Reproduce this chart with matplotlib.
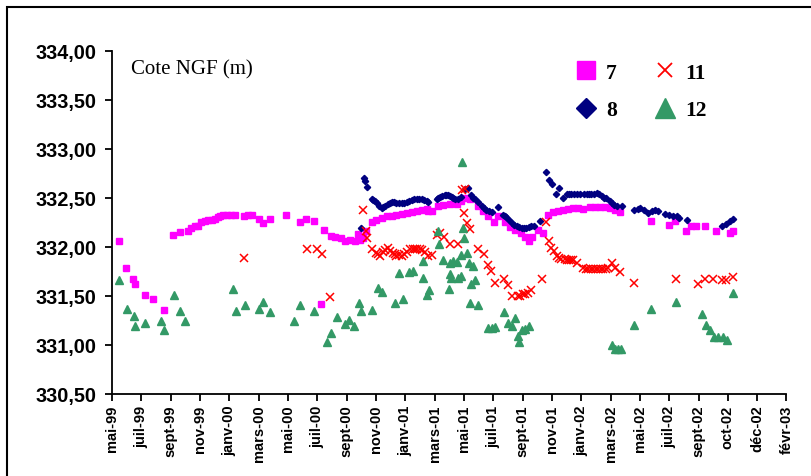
import matplotlib
matplotlib.use("Agg")
import matplotlib.pyplot as plt
import pandas as pd
from matplotlib.lines import Line2D
from matplotlib.patches import Rectangle
from matplotlib.ticker import FuncFormatter

# piezometer 7
dates_7 = ["1999-06-01", "1999-06-15", "1999-06-29", "1999-07-04", "1999-07-24", "1999-08-10",
           "1999-09-01", "1999-09-20", "1999-10-04", "1999-10-21", "1999-10-26", "1999-11-04",
           "1999-11-09", "1999-11-17", "1999-11-24", "1999-12-01", "1999-12-08", "1999-12-15",
           "1999-12-21", "1999-12-25", "1999-12-31", "2000-01-08", "2000-01-16", "2000-01-25",
           "2000-02-13", "2000-02-21", "2000-02-29", "2000-03-14", "2000-03-21", "2000-04-05",
           "2000-05-09", "2000-06-06", "2000-06-18", "2000-07-04", "2000-07-19", "2000-07-24",
           "2000-08-08", "2000-08-16", "2000-08-29", "2000-09-06", "2000-09-16", "2000-09-26",
           "2000-10-03", "2000-10-06", "2000-10-12", "2000-10-19", "2000-10-30", "2000-11-09",
           "2000-11-20", "2000-11-30", "2000-12-10", "2000-12-20", "2000-12-31", "2001-01-10",
           "2001-01-20", "2001-01-30", "2001-02-10", "2001-02-20", "2001-02-23", "2001-03-03",
           "2001-03-15", "2001-03-26", "2001-04-08", "2001-04-22", "2001-05-02", "2001-05-09",
           "2001-05-19", "2001-06-05", "2001-06-15", "2001-06-26", "2001-07-08", "2001-07-16",
           "2001-07-30", "2001-08-09", "2001-08-19", "2001-09-01", "2001-09-09", "2001-09-17",
           "2001-09-24", "2001-10-06", "2001-10-15", "2001-10-26", "2001-11-06", "2001-11-16",
           "2001-11-26", "2001-12-06", "2001-12-17", "2001-12-27", "2002-01-06", "2002-01-20",
           "2002-01-30", "2002-02-09", "2002-02-19", "2002-03-02", "2002-03-12", "2002-03-22",
           "2002-05-24", "2002-06-30", "2002-07-13", "2002-08-04", "2002-08-14", "2002-08-25",
           "2002-09-13", "2002-10-04", "2002-11-02", "2002-11-09"]
level_7 = [332.06, 331.78, 331.67, 331.62, 331.51, 331.46,
           331.35, 332.12, 332.15, 332.16, 332.19, 332.21,
           332.21, 332.25, 332.26, 332.27, 332.27, 332.28,
           332.30, 332.31, 332.32, 332.32, 332.32, 332.32,
           332.31, 332.32, 332.32, 332.28, 332.24, 332.28,
           332.32, 332.25, 332.28, 332.26, 331.41, 332.17,
           332.11, 332.10, 332.09, 332.06, 332.07, 332.06,
           332.13, 332.07, 332.09, 332.16, 332.25, 332.27,
           332.29, 332.31, 332.31, 332.32, 332.33, 332.34,
           332.35, 332.36, 332.37, 332.38, 332.36, 332.36,
           332.41, 332.42, 332.43, 332.43, 332.46, 332.49,
           332.48, 332.41, 332.36, 332.31, 332.25, 332.31,
           332.25, 332.20, 332.17, 332.14, 332.10, 332.06,
           332.10, 332.17, 332.14, 332.32, 332.35, 332.36,
           332.37, 332.38, 332.39, 332.39, 332.38, 332.40,
           332.40, 332.40, 332.40, 332.39, 332.37, 332.35,
           332.26, 332.22, 332.26, 332.16, 332.21, 332.21,
           332.21, 332.16, 332.14, 332.16]

# piezometer 8
dates_8 = ["2000-10-08", "2000-10-15", "2000-10-16", "2000-10-20", "2000-10-30", "2000-11-03",
           "2000-11-06", "2000-11-10", "2000-11-15", "2000-11-20", "2000-11-23", "2000-11-26",
           "2000-12-03", "2000-12-06", "2000-12-10", "2000-12-15", "2000-12-20", "2000-12-25",
           "2000-12-31", "2001-01-05", "2001-01-10", "2001-01-15", "2001-01-20", "2001-01-25",
           "2001-01-30", "2001-02-05", "2001-02-10", "2001-02-15", "2001-02-20", "2001-02-23",
           "2001-03-12", "2001-03-16", "2001-03-19", "2001-03-24", "2001-03-29", "2001-04-01",
           "2001-04-05", "2001-04-08", "2001-04-12", "2001-04-15", "2001-04-19", "2001-04-25",
           "2001-05-02", "2001-05-09", "2001-05-15", "2001-05-21", "2001-05-26", "2001-05-30",
           "2001-06-05", "2001-06-12", "2001-06-17", "2001-06-22", "2001-06-27", "2001-07-03",
           "2001-07-16", "2001-07-26", "2001-07-30", "2001-08-02", "2001-08-08", "2001-08-13",
           "2001-08-18", "2001-08-23", "2001-08-28", "2001-09-02", "2001-09-07", "2001-09-12",
           "2001-09-17", "2001-09-22", "2001-09-27", "2001-10-09", "2001-10-22", "2001-10-28",
           "2001-11-04", "2001-11-11", "2001-11-18", "2001-11-25", "2001-12-03", "2001-12-08",
           "2001-12-13", "2001-12-18", "2001-12-24", "2001-12-30", "2002-01-08", "2002-01-13",
           "2002-01-18", "2002-01-23", "2002-01-28", "2002-02-03", "2002-02-08", "2002-02-13",
           "2002-02-18", "2002-02-22", "2002-03-02", "2002-03-06", "2002-03-10", "2002-03-17",
           "2002-03-26", "2002-04-20", "2002-04-28", "2002-05-02", "2002-05-11", "2002-05-19",
           "2002-05-26", "2002-06-02", "2002-06-08", "2002-06-22", "2002-06-30", "2002-07-09",
           "2002-07-16", "2002-07-21", "2002-08-06", "2002-10-17", "2002-10-26", "2002-11-02",
           "2002-11-09"]
level_8 = [332.19, 332.70, 332.67, 332.61, 332.48, 332.47,
           332.46, 332.44, 332.41, 332.39, 332.40, 332.41,
           332.43, 332.44, 332.45, 332.45, 332.44, 332.44,
           332.44, 332.44, 332.45, 332.46, 332.47, 332.48,
           332.48, 332.48, 332.48, 332.47, 332.46, 332.45,
           332.48, 332.50, 332.51, 332.52, 332.53, 332.53,
           332.53, 332.52, 332.51, 332.50, 332.48, 332.48,
           332.51, 332.59, 332.60, 332.53, 332.50, 332.48,
           332.45, 332.41, 332.39, 332.37, 332.36, 332.35,
           332.40, 332.32, 332.31, 332.30, 332.27, 332.24,
           332.22, 332.21, 332.20, 332.19, 332.19, 332.19,
           332.20, 332.21, 332.21, 332.26, 332.76, 332.68,
           332.64, 332.54, 332.60, 332.50, 332.54, 332.54,
           332.54, 332.54, 332.54, 332.54, 332.54, 332.54,
           332.54, 332.54, 332.54, 332.55, 332.54, 332.52,
           332.50, 332.49, 332.46, 332.44, 332.42, 332.41,
           332.41, 332.37, 332.38, 332.39, 332.37, 332.34,
           332.36, 332.37, 332.36, 332.33, 332.32, 332.31,
           332.31, 332.29, 332.27, 332.21, 332.23, 332.26,
           332.28]

# piezometer 11
dates_11 = ["2000-02-13", "2000-06-19", "2000-07-11", "2000-07-21", "2000-08-07", "2000-10-13",
            "2000-10-19", "2000-10-21", "2000-10-30", "2000-11-09", "2000-11-12", "2000-11-16",
            "2000-11-22", "2000-11-26", "2000-12-03", "2000-12-07", "2000-12-12", "2000-12-16",
            "2000-12-20", "2000-12-25", "2000-12-31", "2001-01-05", "2001-01-10", "2001-01-17",
            "2001-01-22", "2001-01-27", "2001-02-01", "2001-02-06", "2001-02-11", "2001-02-16",
            "2001-02-23", "2001-03-03", "2001-03-12", "2001-03-19", "2001-03-28", "2001-04-08",
            "2001-04-24", "2001-05-03", "2001-05-10", "2001-05-07", "2001-05-13", "2001-05-19",
            "2001-06-05", "2001-06-18", "2001-06-26", "2001-07-01", "2001-07-09", "2001-07-29",
            "2001-08-06", "2001-08-14", "2001-08-25", "2001-08-30", "2001-09-05", "2001-09-10",
            "2001-09-15", "2001-09-22", "2001-10-13", "2001-10-22", "2001-10-28", "2001-11-02",
            "2001-11-07", "2001-11-13", "2001-11-17", "2001-11-21", "2001-11-30", "2001-12-04",
            "2001-12-08", "2001-12-13", "2001-12-17", "2001-12-24", "2002-01-06", "2002-01-11",
            "2002-01-16", "2002-01-21", "2002-01-27", "2002-02-01", "2002-02-06", "2002-02-11",
            "2002-02-16", "2002-02-21", "2002-02-26", "2002-03-05", "2002-03-12", "2002-03-23",
            "2002-04-20", "2002-07-14", "2002-08-29", "2002-09-12", "2002-09-29", "2002-10-17",
            "2002-10-26", "2002-11-09"]
level_11 = [331.88, 331.97, 331.97, 331.92, 331.48, 332.37,
            332.16, 332.09, 331.97, 331.93, 331.92, 331.90,
            331.94, 331.96, 331.98, 331.95, 331.93, 331.92,
            331.90, 331.91, 331.90, 331.92, 331.94, 331.97,
            331.97, 331.97, 331.97, 331.97, 331.96, 331.94,
            331.90, 331.91, 332.12, 332.14, 332.10, 332.03,
            332.03, 332.58, 332.59, 332.34, 332.24, 332.18,
            331.97, 331.92, 331.81, 331.75, 331.63, 331.67,
            331.61, 331.50, 331.49, 331.50, 331.52, 331.52,
            331.53, 331.56, 331.67, 332.25, 332.06, 331.98,
            331.95, 331.90, 331.88, 331.87, 331.87, 331.86,
            331.86, 331.86, 331.86, 331.83, 331.78, 331.77,
            331.77, 331.77, 331.77, 331.77, 331.77, 331.77,
            331.77, 331.77, 331.78, 331.83, 331.78, 331.74,
            331.63, 331.67, 331.62, 331.67, 331.67, 331.66,
            331.66, 331.69]

# piezometer 12
dates_12 = ["1999-06-02", "1999-06-17", "1999-07-01", "1999-07-05", "1999-07-25", "1999-08-26",
            "1999-09-02", "1999-09-22", "1999-10-05", "1999-10-14", "2000-01-20", "2000-01-27",
            "2000-02-14", "2000-03-14", "2000-03-22", "2000-04-06", "2000-05-25", "2000-06-06",
            "2000-07-04", "2000-07-31", "2000-08-09", "2000-08-21", "2000-09-06", "2000-09-14",
            "2000-09-25", "2000-10-04", "2000-10-08", "2000-10-30", "2000-11-13", "2000-11-20",
            "2000-12-18", "2000-12-25", "2001-01-02", "2001-01-15", "2001-01-23", "2001-02-12",
            "2001-02-13", "2001-02-20", "2001-02-25", "2001-03-14", "2001-03-17", "2001-03-26",
            "2001-04-08", "2001-04-15", "2001-04-22", "2001-05-02", "2001-05-13", "2001-05-08",
            "2001-05-06", "2001-05-04", "2001-05-17", "2001-05-26", "2001-04-08", "2001-04-11",
            "2001-04-25", "2001-05-02", "2001-04-06", "2001-05-21", "2001-05-30", "2001-05-19",
            "2001-06-05", "2001-06-26", "2001-07-03", "2001-07-09", "2001-07-29", "2001-08-06",
            "2001-08-13", "2001-08-19", "2001-08-25", "2001-08-28", "2001-09-03", "2001-09-10",
            "2001-09-17", "2002-03-05", "2002-03-12", "2002-03-19", "2002-03-25", "2002-04-20",
            "2002-05-25", "2002-07-14", "2002-09-07", "2002-09-14", "2002-09-22", "2002-09-30",
            "2002-10-08", "2002-10-19", "2002-10-28", "2002-11-09"]
level_12 = [331.66, 331.36, 331.29, 331.19, 331.22, 331.24,
            331.15, 331.51, 331.34, 331.24, 331.57, 331.34,
            331.40, 331.36, 331.43, 331.33, 331.24, 331.40,
            331.34, 331.03, 331.12, 331.28, 331.21, 331.25,
            331.19, 331.42, 331.34, 331.35, 331.58, 331.54,
            331.42, 331.73, 331.46, 331.74, 331.75, 331.85,
            331.68, 331.51, 331.56, 332.16, 332.03, 331.86,
            331.83, 331.85, 331.84, 331.91, 331.93, 332.09,
            332.19, 332.86, 331.83, 331.80, 331.72, 331.68,
            331.68, 331.70, 331.57, 331.62, 331.66, 331.42,
            331.40, 331.17, 331.17, 331.18, 331.33, 331.22,
            331.19, 331.27, 331.09, 331.03, 331.15, 331.16,
            331.19, 330.99, 330.95, 330.95, 330.95, 331.20,
            331.36, 331.43, 331.31, 331.20, 331.15, 331.08,
            331.08, 331.08, 331.05, 331.53]

tick_labels = ["mai-99", "juil-99", "sept-99", "nov-99", "janv-00", "mars-00", "mai-00",
               "juil-00", "sept-00", "nov-00", "janv-01", "mars-01", "mai-01", "juil-01",
               "sept-01", "nov-01", "janv-02", "mars-02", "mai-02", "juil-02", "sept-02",
               "oct-02", "déc-02", "févr-03"]

W, H = 812, 477
fig = plt.figure(figsize=(W / 100, H / 100), dpi=100)
ax = fig.add_axes([112 / W, 1 - 394.5 / H, 674.5 / W, 343 / H])

ax.plot(pd.to_datetime(dates_7), level_7, ls="none", marker="s", ms=4.4, mec="#FF00FF", mfc="#FF00FF")
ax.plot(pd.to_datetime(dates_8), level_8, ls="none", marker="D", ms=3.2, mec="#000080", mfc="#000080")
ax.plot(pd.to_datetime(dates_11), level_11, ls="none", marker="x", ms=6, mew=1.1, color="#FF0000")
ax.plot(pd.to_datetime(dates_12), level_12, ls="none", marker="^", ms=5.2, mec="#339966", mfc="#339966")

# Excel style date axis: 60 days per major unit
start = pd.Timestamp("1999-05-18")
ticks = [start + pd.Timedelta(days=60 * k) for k in range(len(tick_labels))]
ax.set_xlim(ticks[0], ticks[-1])
ax.set_xticks(ticks)
ax.set_xticklabels(tick_labels, rotation=90, fontsize=10.5, fontweight="bold", family="Liberation Sans")

ax.set_ylim(330.5, 334.0)
ax.set_yticks([330.5 + 0.5 * i for i in range(8)])
ax.yaxis.set_major_formatter(FuncFormatter(lambda v, p: f"{v:.2f}".replace(".", ",")))
for lab in ax.get_yticklabels():
    lab.set_fontsize(14.3)
    lab.set_fontweight("bold")
    lab.set_family("Liberation Sans")

ax.spines["top"].set_visible(False)
ax.spines["right"].set_visible(False)
ax.spines["left"].set_linewidth(1.3)
ax.spines["bottom"].set_linewidth(1.3)
ax.tick_params(axis="both", direction="out", length=5, width=1.3, pad=3)
ax.tick_params(axis="y", pad=6)

fig.text(131 / W, 1 - 70 / H, "Cote NGF (m)", family="Liberation Serif", fontsize=15, va="center")

handles = [
    Line2D([], [], ls="none", marker="s", ms=13.5, mec="#FF00FF", mfc="#FF00FF"),
    Line2D([], [], ls="none", marker="D", ms=9.7, mec="#000080", mfc="#000080"),
    Line2D([], [], ls="none", marker="x", ms=9.5, mew=1.3, color="#FF0000"),
    Line2D([], [], ls="none", marker="^", ms=14.5, mec="#339966", mfc="#339966"),
]
ax.legend(handles, ["7", "8", "11", "12"], ncol=2, loc="upper left",
          bbox_to_anchor=(564 / W, 1 - 53 / H), bbox_transform=fig.transFigure,
          frameon=False, borderpad=0, handlelength=1.0, handletextpad=0.45,
          columnspacing=1.75, labelspacing=0.8,
          prop={"family": "Liberation Serif", "weight": "bold", "size": 15.5})

# chart area border (cut by the image edge on right and bottom)
fig.add_artist(Rectangle((7 / W, -0.5), 2.0, 1.5 - 8 / H, fill=False, lw=1.5,
                         ec="black", transform=fig.transFigure))

fig.savefig("out.png", dpi=100)
